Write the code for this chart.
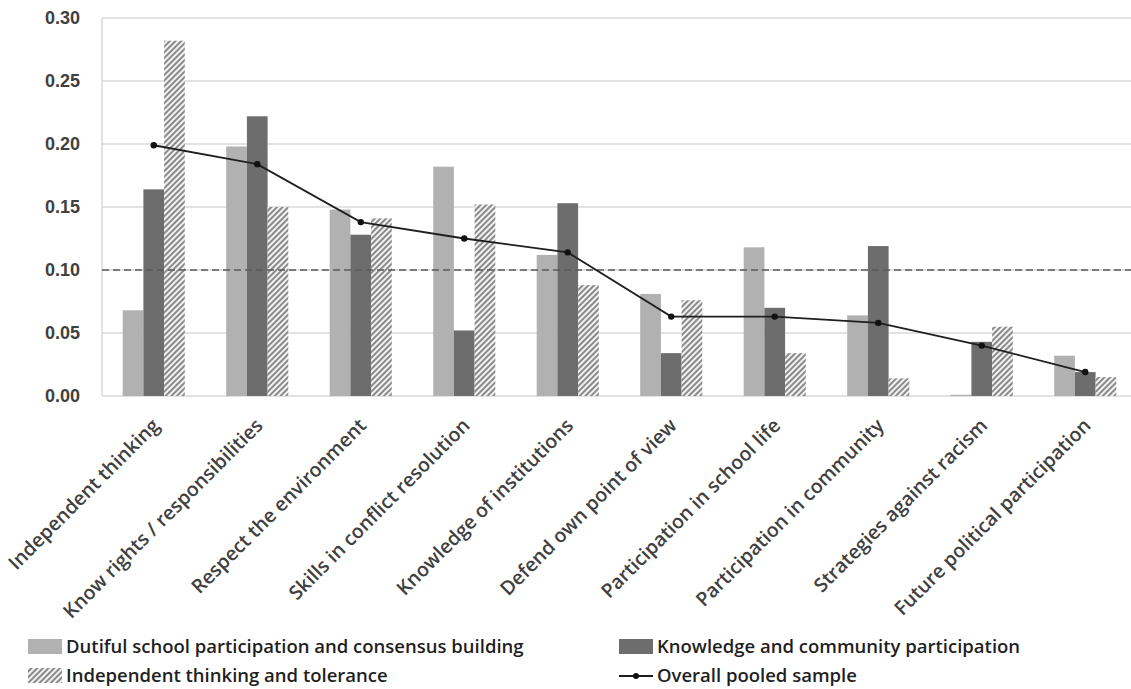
<!DOCTYPE html>
<html>
<head>
<meta charset="utf-8">
<script src="https://cdn.jsdelivr.net/npm/d3@7"></script>
<style>
  body { margin: 0; background: #fff; }
  svg { display: block; font-family: "Open Sans", sans-serif; }
  .axis text { fill: #404040; }
</style>
</head>
<body>
<div id="chart"></div>
<script>
const categories = [
  "Independent thinking",
  "Know rights / responsibilities",
  "Respect the environment",
  "Skills in conflict resolution",
  "Knowledge of institutions",
  "Defend own point of view",
  "Participation in school life",
  "Participation in community",
  "Strategies against racism",
  "Future political participation",
];

const seriesNames = [
  "Dutiful school participation and consensus building",
  "Knowledge and community participation",
  "Independent thinking and tolerance",
];

const dutiful = [0.068, 0.198, 0.148, 0.182, 0.112, 0.081, 0.118, 0.064, 0.001, 0.032];
const knowledge = [0.164, 0.222, 0.128, 0.052, 0.153, 0.034, 0.070, 0.119, 0.043, 0.019];
const independent = [0.282, 0.150, 0.141, 0.152, 0.088, 0.076, 0.034, 0.014, 0.055, 0.015];
const pooled = [0.199, 0.184, 0.138, 0.125, 0.114, 0.063, 0.063, 0.058, 0.040, 0.019];
const pooledName = "Overall pooled sample";

const referenceValue = 0.10;
const yTicks = [0, 0.05, 0.10, 0.15, 0.20, 0.25, 0.30];

const width = 1131;
const height = 689;
const margin = { top: 18, right: -6, bottom: 293, left: 102 };

const svg = d3
  .select("#chart")
  .append("svg")
  .attr("width", width)
  .attr("height", height);

// diagonal hatch for the third series
const defs = svg.append("defs");
const hatch = defs
  .append("pattern")
  .attr("id", "hatch")
  .attr("patternUnits", "userSpaceOnUse")
  .attr("width", 4)
  .attr("height", 4)
  .attr("patternTransform", "rotate(45)");
hatch.append("rect").attr("width", 4).attr("height", 4).attr("fill", "#f2f2f2");
hatch
  .append("line")
  .attr("x1", 1).attr("y1", 0)
  .attr("x2", 1).attr("y2", 4)
  .attr("stroke", "#8a8a8a")
  .attr("stroke-width", 2);

const color = d3
  .scaleOrdinal()
  .domain(seriesNames)
  .range(["#b1b1b1", "#6d6d6d", "url(#hatch)"]);

const x = d3
  .scaleBand()
  .domain(categories)
  .range([margin.left, width - margin.right]);

const x1 = d3
  .scaleBand()
  .domain(seriesNames)
  .range([0, x.bandwidth()])
  .paddingOuter(1);

const y = d3
  .scaleLinear()
  .domain([0, 0.30])
  .range([height - margin.bottom, margin.top]);

// gridlines
svg
  .append("g")
  .attr("class", "grid")
  .selectAll("line")
  .data(yTicks)
  .join("line")
  .attr("x1", margin.left)
  .attr("x2", width)
  .attr("y1", (d) => y(d))
  .attr("y2", (d) => y(d))
  .attr("stroke", "#d9d9d9")
  .attr("stroke-width", 1.5);

svg
  .append("line")
  .attr("x1", margin.left)
  .attr("x2", margin.left)
  .attr("y1", y(0.30))
  .attr("y2", y(0))
  .attr("stroke", "#d9d9d9")
  .attr("stroke-width", 1.5);

// y axis labels
const yAxis = d3
  .axisLeft(y)
  .tickValues(yTicks)
  .tickFormat(d3.format(".2f"))
  .tickSize(0)
  .tickPadding(22);

svg
  .append("g")
  .attr("class", "axis y-axis")
  .attr("transform", `translate(${margin.left},0)`)
  .call(yAxis)
  .call((g) => g.select(".domain").remove())
  .call((g) =>
    g.selectAll("text").attr("font-size", 18).attr("font-weight", 700)
  );

// grouped bars
const barData = categories.map((c, i) => ({
  category: c,
  values: [dutiful[i], knowledge[i], independent[i]].map((v, j) => ({
    key: seriesNames[j],
    value: v,
  })),
}));

svg
  .append("g")
  .attr("class", "bars")
  .selectAll("g")
  .data(barData)
  .join("g")
  .attr("transform", (d) => `translate(${x(d.category)},0)`)
  .selectAll("rect")
  .data((d) => d.values)
  .join("rect")
  .attr("x", (d) => x1(d.key))
  .attr("width", x1.bandwidth())
  .attr("y", (d) => y(d.value))
  .attr("height", (d) => y(0) - y(d.value))
  .attr("fill", (d) => color(d.key));

// reference line at 0.10
svg
  .append("line")
  .attr("x1", margin.left)
  .attr("x2", width)
  .attr("y1", y(referenceValue))
  .attr("y2", y(referenceValue))
  .attr("stroke", "#5a5a5a")
  .attr("stroke-width", 1.5)
  .attr("stroke-dasharray", "7,4");

// pooled sample line
const line = d3
  .line()
  .x((d, i) => x(categories[i]) + x.bandwidth() / 2)
  .y((d) => y(d));

svg
  .append("path")
  .datum(pooled)
  .attr("d", line)
  .attr("fill", "none")
  .attr("stroke", "#1f1f1f")
  .attr("stroke-width", 1.8);

svg
  .append("g")
  .attr("class", "points")
  .selectAll("circle")
  .data(pooled)
  .join("circle")
  .attr("cx", (d, i) => x(categories[i]) + x.bandwidth() / 2)
  .attr("cy", (d) => y(d))
  .attr("r", 3.2)
  .attr("fill", "#111");

// x axis category labels, rotated
svg
  .append("g")
  .attr("class", "axis x-axis")
  .selectAll("text")
  .data(categories)
  .join("text")
  .attr(
    "transform",
    (d) => `translate(${x(d) + x.bandwidth() / 2 + 2},${y(0) + 26}) rotate(-45)`
  )
  .attr("text-anchor", "end")
  .attr("dy", "0.35em")
  .attr("font-size", 19.5)
  .attr("font-weight", 600)
  .text((d) => d);

// legend
const legendItems = [
  { name: seriesNames[0], type: "rect", x: 28, y: 647 },
  { name: seriesNames[1], type: "rect", x: 619, y: 647 },
  { name: seriesNames[2], type: "rect", x: 28, y: 676 },
  { name: pooledName, type: "line", x: 619, y: 676 },
];

const legend = svg
  .append("g")
  .attr("class", "legend")
  .selectAll("g")
  .data(legendItems)
  .join("g")
  .attr("transform", (d) => `translate(${d.x},${d.y})`);

legend
  .filter((d) => d.type === "rect")
  .append("rect")
  .attr("x", 0)
  .attr("y", -8)
  .attr("width", 34)
  .attr("height", 15)
  .attr("fill", (d) => color(d.name));

const lineLegend = legend.filter((d) => d.type === "line");
lineLegend
  .append("line")
  .attr("x1", 0)
  .attr("x2", 34)
  .attr("stroke", "#1f1f1f")
  .attr("stroke-width", 1.8);
lineLegend.append("circle").attr("cx", 17).attr("r", 3).attr("fill", "#111");

legend
  .append("text")
  .attr("x", 38)
  .attr("dy", "0.35em")
  .attr("font-size", 18.5)
  .attr("font-weight", 600)
  .attr("fill", "#1f1f1f")
  .text((d) => d.name);
</script>
</body>
</html>
